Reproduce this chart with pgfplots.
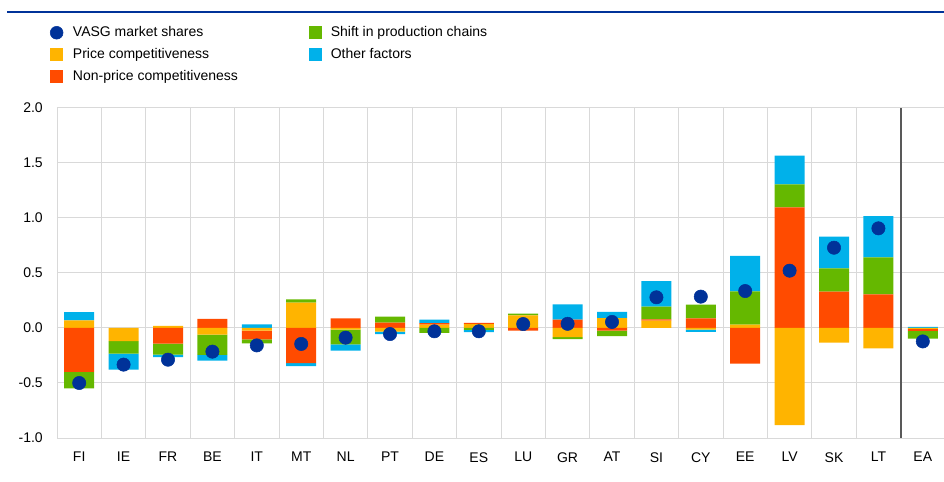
\documentclass[border=0pt]{standalone}
\usepackage{fontspec}
\setmainfont{Liberation Sans}
\usepackage{pgfplots}
\usepackage{pgfplotstable}
\pgfplotsset{compat=1.18}
\definecolor{ecbblue}{HTML}{003299}
\definecolor{cyellow}{HTML}{FFB400}
\definecolor{cred}{HTML}{FF4B00}
\definecolor{cgreen}{HTML}{65B800}
\definecolor{clblue}{HTML}{00B1EA}
\definecolor{gridgray}{HTML}{D9D9D9}
\definecolor{sepgray}{HTML}{595959}

% positive parts of the contributions
\pgfplotstableread{
x price nonprice shift other
0 0.070 0 0 0.075
1 0 0 0 0
2 0.020 0 0 0
3 0 0.082 0 0
4 0 0 0 0.034
5 0.230 0 0.030 0
6 0 0.087 0 0
7 0 0.048 0.055 0
8 0.030 0.015 0 0.031
9 0.035 0.012 0 0
10 0.115 0 0.015 0
11 0 0.075 0 0.140
12 0.090 0 0 0.056
13 0.067 0.012 0.115 0.233
14 0 0.088 0.124 0
15 0.030 0 0.303 0.322
16 0 1.097 0.209 0.261
17 0 0.330 0.212 0.288
18 0 0.306 0.336 0.376
19 0 0 0 0.010
}\pos

% negative parts of the contributions
\pgfplotstableread{
x price nonprice shift other
0 0 -0.400 -0.150 0
1 -0.120 0 -0.113 -0.145
2 0 -0.142 -0.100 -0.022
3 -0.060 0 -0.185 -0.052
4 -0.024 -0.079 -0.036 0
5 0 -0.320 0 -0.027
6 -0.015 0 -0.133 -0.058
7 -0.033 0 0 -0.022
8 0 0 -0.045 0
9 0 0 -0.018 -0.020
10 0 -0.025 0 0
11 -0.082 0 -0.020 0
12 0 -0.024 -0.050 0
13 0 0 0 0
14 -0.015 0 0 -0.020
15 0 -0.324 0 0
16 -0.882 0 0 0
17 -0.133 0 0 0
18 -0.185 0 0 0
19 -0.007 -0.020 -0.070 0
}\neg

% VASG market shares
\pgfplotstableread{
x y
0 -0.500
1 -0.333
2 -0.288
3 -0.215
4 -0.158
5 -0.145
6 -0.088
7 -0.055
8 -0.030
9 -0.030
10 0.036
11 0.038
12 0.055
13 0.279
14 0.285
15 0.336
16 0.521
17 0.730
18 0.906
19 -0.122
}\vasg

\pgfplotsset{
  base/.style={scale only axis, width=666pt, height=247.5pt,
    xmin=-0.5, xmax=19.5, ymin=-1, ymax=2,
    at={(42.75pt,32.25pt)}, anchor=south west},
  bars/.style={ybar stacked, bar width=22.5pt},
}
\newcommand{\lbl}{\fontsize{10.5pt}{12pt}\selectfont}

\begin{document}
\begin{tikzpicture}
\begin{axis}[base, bars,
    axis line style={draw=none}, tick style={draw=none},
    xtick={0,...,19},
    xticklabels={FI,IE,FR,BE,IT,MT,NL,PT,DE,ES,LU,GR,AT,SI,CY,EE,LV,SK,LT,EA},
    minor xtick={-0.5,0.5,...,19.5},
    xminorgrids=true, ymajorgrids=true,
    major grid style={gridgray, line width=0.75pt},
    minor grid style={gridgray, line width=0.75pt},
    ytick={-1,-0.5,0,0.5,1,1.5,2},
    yticklabels={-1.0,-0.5,0.0,0.5,1.0,1.5,2.0},
    tick label style={font=\lbl, color=black},
    xticklabel style={anchor=north, inner ysep=0pt, yshift=-10.5pt},
    yticklabel style={anchor=east, inner xsep=0pt, xshift=-10.5pt},
    legend columns=2,
    legend cell align=left,
    legend style={draw=none, fill=none, inner sep=0pt, outer sep=0pt,
      at={(-0.0079,1.2545)}, anchor=north west, font=\lbl,
      row sep=3.3pt,
      /tikz/every odd column/.append style={column sep=5.25pt},
      /tikz/every even column/.append style={column sep=51pt}},
]
\addlegendimage{legend image code/.code={\fill[ecbblue] (4.5pt,0pt) circle (4.8pt);}}
\addlegendentry{VASG market shares}
\addlegendimage{legend image code/.code={\fill[cgreen] (0pt,-4.5pt) rectangle (9pt,4.5pt);}}
\addlegendentry{Shift in production chains}
\addlegendimage{legend image code/.code={\fill[cyellow] (0pt,-4.5pt) rectangle (9pt,4.5pt);}}
\addlegendentry{Price competitiveness}
\addlegendimage{legend image code/.code={\fill[clblue] (0pt,-4.5pt) rectangle (9pt,4.5pt);}}
\addlegendentry{Other factors}
\addlegendimage{legend image code/.code={\fill[cred] (0pt,-4.5pt) rectangle (9pt,4.5pt);}}
\addlegendentry{Non-price competitiveness}

\addplot[fill=cyellow, draw=none, forget plot] table[x=x, y=price] {\pos};
\addplot[fill=cred, draw=none, forget plot] table[x=x, y=nonprice] {\pos};
\addplot[fill=cgreen, draw=none, forget plot] table[x=x, y=shift] {\pos};
\addplot[fill=clblue, draw=none, forget plot] table[x=x, y=other] {\pos};
\end{axis}

\begin{axis}[base, bars, hide axis]
\addplot[fill=cyellow, draw=none] table[x=x, y=price] {\neg};
\addplot[fill=cred, draw=none] table[x=x, y=nonprice] {\neg};
\addplot[fill=cgreen, draw=none] table[x=x, y=shift] {\neg};
\addplot[fill=clblue, draw=none] table[x=x, y=other] {\neg};
\end{axis}

\begin{axis}[base, hide axis]
\addplot[sepgray, line width=1.5pt] coordinates {(18.5,-1) (18.5,2)};
\addplot[only marks, mark=*, mark size=5pt, color=ecbblue] table[x=x, y=y] {\vasg};
\end{axis}

\draw[ecbblue, line width=1.5pt] (5.25pt,351.9pt) -- (709pt,351.9pt);
\pgfresetboundingbox
\path (0,0) rectangle (708pt,360.75pt);
\end{tikzpicture}
\end{document}
